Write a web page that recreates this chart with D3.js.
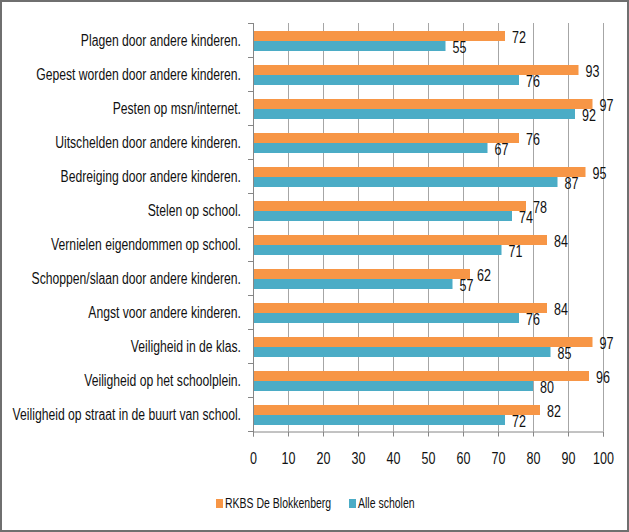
<!DOCTYPE html>
<html><head><meta charset="utf-8">
<script src="https://cdn.jsdelivr.net/npm/d3@7"></script>
<style>
body{margin:0;background:#fff;}
svg text{font-family:"Liberation Sans",Arial,sans-serif;fill:#111;}
</style></head><body>
<svg id="c" width="629" height="532"></svg>
<script>
const categories = [
 "Plagen door andere kinderen.",
 "Gepest worden door andere kinderen.",
 "Pesten op msn/internet.",
 "Uitschelden door andere kinderen.",
 "Bedreiging door andere kinderen.",
 "Stelen op school.",
 "Vernielen eigendommen op school.",
 "Schoppen/slaan door andere kinderen.",
 "Angst voor andere kinderen.",
 "Veiligheid in de klas.",
 "Veiligheid op het schoolplein.",
 "Veiligheid op straat in de buurt van school."
];
const seriesNames = ["RKBS De Blokkenberg", "Alle scholen"];
const blokkenberg = [72, 93, 97, 76, 95, 78, 84, 62, 84, 97, 96, 82];
const alleScholen = [55, 76, 92, 67, 87, 74, 71, 57, 76, 85, 80, 72];
const xTicks = [0,10,20,30,40,50,60,70,80,90,100];
const colors = ["#F79646", "#4BACC6"];

const SX = 0.76; // horizontal condensing to mimic narrow font
const FS = 16;
const svg = d3.select("#c");
const W = 629, H = 532;
svg.append("rect").attr("x",1).attr("y",1).attr("width",W-2).attr("height",H-2)
  .attr("fill","#fff").attr("stroke","#6F6F6F").attr("stroke-width",2);

const pL = 253, pR = 603, pT = 23, pB = 431;
const x = d3.scaleLinear().domain([0,100]).range([pL,pR]);
const y = d3.scaleBand().domain(categories).range([pT,pB]);
const inner = d3.scaleBand().domain(seriesNames).range([0, 20]);
const pad = (y.bandwidth()-20)/2 + 1;

function ctext(g, tx, ty, anchor, size, sx){
  return g.append("text")
    .attr("transform",`translate(${tx},${ty}) scale(${sx||SX},1)`)
    .attr("text-anchor",anchor).attr("dominant-baseline","central")
    .attr("font-size",size);
}

// gridlines
svg.append("g").selectAll("line").data(xTicks.slice(1)).join("line")
  .attr("x1",d=>x(d)+0.5).attr("x2",d=>x(d)+0.5).attr("y1",pT).attr("y2",pB)
  .attr("stroke","#A6A6A6").attr("stroke-width",1);

const series = [blokkenberg, alleScholen];
series.forEach((vals, si) => {
  const g = svg.append("g");
  g.selectAll("rect").data(vals).join("rect")
    .attr("x", x(0)+1)
    .attr("y", (d,i)=> y(categories[i]) + pad + inner(seriesNames[si]))
    .attr("width", d => x(d)-x(0)-1)
    .attr("height", inner.bandwidth())
    .attr("fill", colors[si]);
  vals.forEach((d,i)=>{
    ctext(g, x(d)+7, y(categories[i]) + pad + inner(seriesNames[si]) + inner.bandwidth()/2 + 1.5, "start", FS+0.5).text(d);
  });
});

// x axis
const xa = svg.append("g").attr("transform",`translate(0,${pB+0.5})`)
  .call(d3.axisBottom(x).tickValues(xTicks).tickSize(5).tickPadding(13).tickFormat(d3.format("d")));
xa.select(".domain").attr("stroke","#868686");
xa.selectAll(".tick line").attr("stroke","#868686");
xa.selectAll("text").attr("font-size",FS+0.5).attr("font-family",null).attr("fill","#111")
  .attr("dy",null).attr("y",27).attr("dominant-baseline","central")
  .attr("transform",`scale(${SX},1)`);

// y axis line + ticks at band boundaries
svg.append("line").attr("x1",pL+0.5).attr("x2",pL+0.5).attr("y1",pT).attr("y2",pB+1)
  .attr("stroke","#868686");
const bounds = categories.map(c=>y(c)).concat([pB]);
svg.append("g").selectAll("line").data(bounds).join("line")
  .attr("x1",pL-5).attr("x2",pL).attr("y1",d=>d+0.5).attr("y2",d=>d+0.5)
  .attr("stroke","#868686");

// category labels
const cg = svg.append("g");
categories.forEach(c=>{
  ctext(cg, pL-12, y(c)+y.bandwidth()/2+0.5, "end", FS).text(c);
});

// legend
const leg = [{n:seriesNames[0],x:216},{n:seriesNames[1],x:349}];
const lg = svg.append("g");
leg.forEach((l,i)=>{
  lg.append("rect").attr("x",l.x).attr("y",499).attr("width",7).attr("height",9).attr("fill",colors[i]);
  ctext(lg, l.x+9, 503, "start", 15, 0.7).text(l.n);
});
</script>
</body></html>
